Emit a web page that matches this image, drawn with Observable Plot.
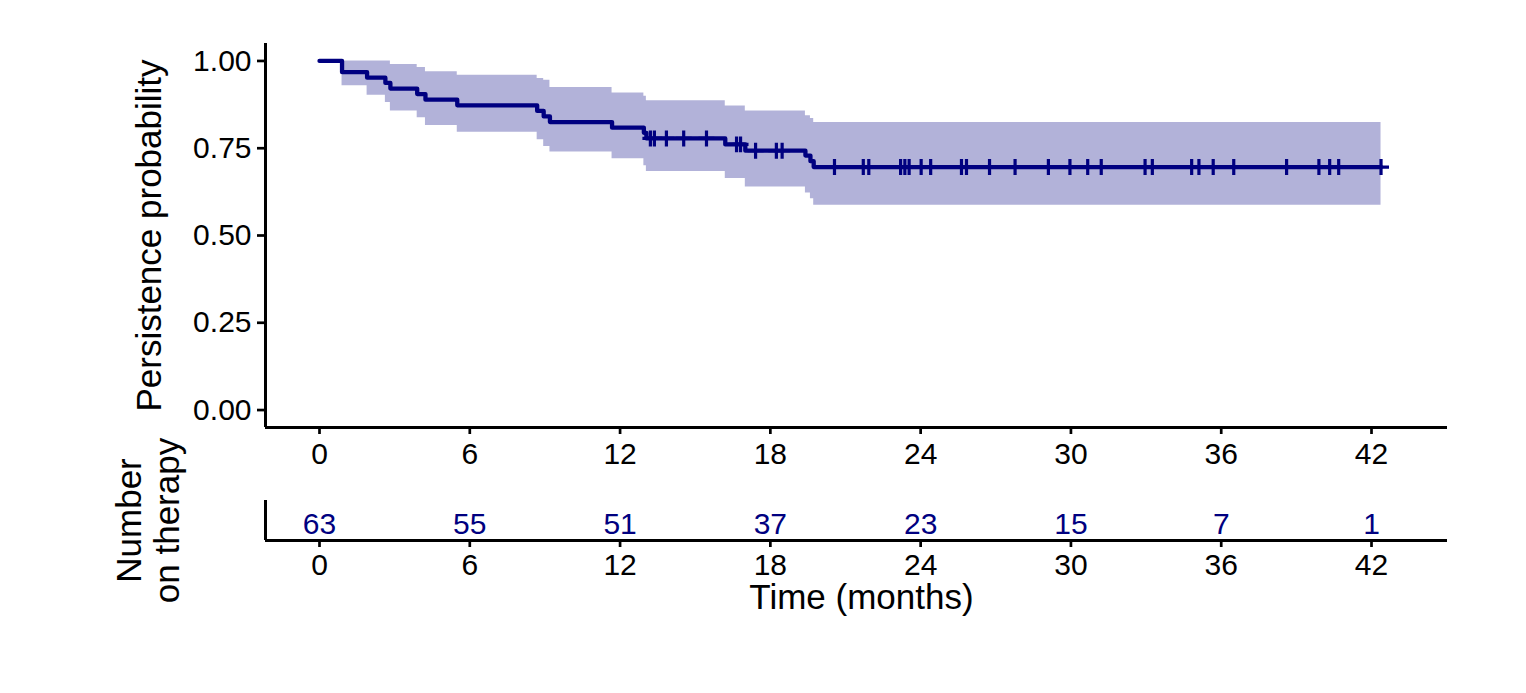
<!DOCTYPE html>
<html><head><meta charset="utf-8">
<script src="https://cdn.jsdelivr.net/npm/d3@7"></script>
<script src="https://cdn.jsdelivr.net/npm/@observablehq/plot@0.6"></script>
<style>
body{margin:0;background:#fff;}
#wrap{position:relative;width:1526px;height:693px;font-family:"Liberation Sans",Arial,sans-serif;}
#main,#risk{position:absolute;left:0;}
#main{top:0}
#risk{top:480px}
</style></head><body><div id="wrap"><div id="main"></div><div id="risk"></div></div>
<script>
// Kaplan–Meier step estimates (months)
const eventTimes = [0, 0.9, 1.9, 2.63, 2.83, 3.9, 4.23, 5.5, 8.69, 8.95, 9.2, 11.68, 12.95, 13.05, 16.2, 17.0, 19.4, 19.6, 19.73, 42.38];
const survival   = [1, 0.968, 0.952, 0.937, 0.921, 0.905, 0.889, 0.873, 0.857, 0.841, 0.825, 0.809, 0.794, 0.778, 0.761, 0.743, 0.729, 0.713, 0.696, 0.696];
const upperCI    = [1, 1, 1, 1, 0.99, 0.981, 0.969, 0.959, 0.95, 0.945, 0.924, 0.908, 0.899, 0.886, 0.871, 0.857, 0.843, 0.835, 0.824, 0.824];
const lowerCI    = [1, 0.929, 0.902, 0.881, 0.857, 0.837, 0.815, 0.796, 0.774, 0.755, 0.739, 0.72, 0.70, 0.683, 0.663, 0.639, 0.622, 0.605, 0.587, 0.587];
const censorTimes = [13.21, 13.37, 13.85, 14.54, 15.45, 16.65, 16.81, 17.41, 18.24, 18.47, 20.56, 21.71, 21.93, 23.20, 23.37, 23.54, 24.02, 24.40, 25.63, 25.83, 26.75, 27.77, 29.10, 29.96, 30.67, 31.21, 32.96, 33.25, 34.82, 35.11, 35.68, 36.50, 38.61, 39.90, 40.33, 40.69, 42.38];
const riskTimes  = [0, 6, 12, 18, 24, 30, 36, 42];
const riskCounts = [63, 55, 51, 37, 23, 15, 7, 1];
const yTicks = [0, 0.25, 0.5, 0.75, 1];
const xTicks = [0, 6, 12, 18, 24, 30, 36, 42];
const xDomain = [-2.156, 45.034];
const yDomain = [-0.05, 1.05];

const NAVY = "#000080";
const FONT = '"Liberation Sans", Arial, sans-serif';

const curveData = eventTimes.map((t, i) => ({time: t, surv: survival[i], upper: upperCI[i], lower: lowerCI[i]}));
const stepAt = t => survival[d3.bisectRight(eventTimes, t) - 1];
const censors = censorTimes.map(t => ({time: t, surv: stepAt(t)}));

const main = Plot.plot({
  width: 1526, height: 480,
  marginTop: 43, marginBottom: 53, marginLeft: 265, marginRight: 79,
  style: {fontFamily: FONT, color: "#000", background: "transparent", overflow: "visible"},
  x: {domain: xDomain},
  y: {domain: yDomain},
  marks: [
    Plot.areaY(curveData, {x: "time", y1: "lower", y2: "upper", curve: "step-after", fill: NAVY, fillOpacity: 0.3}),
    Plot.line(curveData, {x: "time", y: "surv", curve: "step-after", stroke: NAVY, strokeWidth: 4.3}),
    Plot.dot(censors, {x: "time", y: "surv", symbol: "plus", r: 5.2, stroke: NAVY, strokeWidth: 3.2}),
    Plot.ruleX([xDomain[0]], {stroke: "#000", strokeWidth: 3}),
    Plot.ruleY([yDomain[0]], {stroke: "#000", strokeWidth: 3}),
    Plot.axisY({ticks: yTicks, tickFormat: d3.format(".2f"), tickSize: 8, tickPadding: 6, fontSize: 30, label: null, strokeWidth: 2.7}),
    Plot.axisX({ticks: xTicks, tickSize: 7, tickPadding: 8, fontSize: 30, label: null, strokeWidth: 2.7}),
    Plot.text(["Persistence probability"], {text: d => d, frameAnchor: "left", textAnchor: "middle", dx: -105, rotate: -90, lineAnchor: "bottom", fontSize: 35, fill: "#000"})
  ]
});
document.getElementById("main").appendChild(main);

const risk = Plot.plot({
  width: 1526, height: 213,
  marginTop: 20, marginBottom: 153, marginLeft: 265, marginRight: 79,
  style: {fontFamily: FONT, color: "#000", background: "transparent", overflow: "visible"},
  x: {domain: xDomain},
  y: {domain: [0, 1], axis: null},
  marks: [
    Plot.ruleX([xDomain[0]], {stroke: "#000", strokeWidth: 3}),
    Plot.ruleY([0], {stroke: "#000", strokeWidth: 3}),
    Plot.text(riskCounts, {x: (d, i) => riskTimes[i], text: d => String(d), frameAnchor: "bottom", lineAnchor: "bottom", dy: -7, fontSize: 30, fill: NAVY}),
    Plot.axisX({ticks: xTicks, tickSize: 7, tickPadding: 6, fontSize: 30, label: null, strokeWidth: 2.7}),
    Plot.text(["Number\non therapy"], {text: d => d, frameAnchor: "left", textAnchor: "middle", dx: -87, rotate: -90, lineAnchor: "bottom", lineHeight: 1.086, fontSize: 35, fill: "#000"}),
    Plot.text(["Time (months)"], {text: d => d, frameAnchor: "bottom", dx: 5, dy: 68, lineAnchor: "bottom", fontSize: 35, fill: "#000"})
  ]
});
document.getElementById("risk").appendChild(risk);
</script></body></html>
